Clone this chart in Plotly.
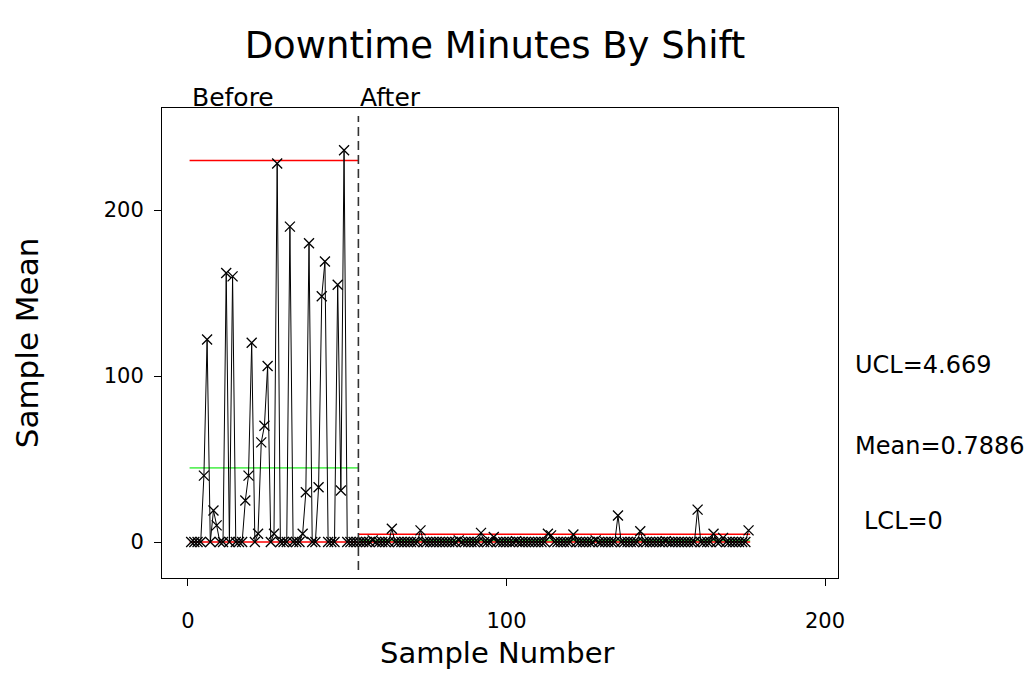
import plotly.graph_objects as go

# ---- data ----
before_values = [0, 0, 0, 0, 40, 122, 0, 19, 10, 0,
                 0, 162, 0, 160, 0, 0, 0, 25, 40, 120,
                 0, 5, 60, 70, 106, 0, 5, 228, 0, 0,
                 0, 190, 0, 0, 0, 5, 30, 180, 0, 0,
                 33, 148, 169, 0, 0, 0, 155, 31, 236, 0,
                 0, 0, 0]
after_values = [0, 0, 0, 0, 1, 0, 0, 0, 0, 0,
                8, 0, 0, 0, 0, 0, 0, 0, 0, 7,
                0, 0, 0, 0, 0, 0, 0, 0, 0, 0,
                0, 1, 0, 0, 0, 0, 0, 0, 5.5, 0,
                0, 0, 3, 0, 0, 0, 0, 0, 0, 0.5,
                0, 0, 0, 0, 0, 0, 0, 0, 0, 5,
                4, 0, 0, 0, 0, 0, 0, 4.5, 0, 0,
                0, 0, 0, 0, 1, 0, 0, 0, 0, 0,
                0, 16, 0, 0, 0, 0, 0, 0, 6.5, 0,
                0, 0, 0, 0, 0, 0, 0.5, 0, 0, 0,
                0, 0, 0, 0, 0, 0, 19.5, 0, 0, 0,
                0, 5, 0, 0, 2.5, 0, 0, 0, 0, 0,
                0, 0, 7]

phase_labels = ["Before", "After"]
ucl_values = [229.8, 4.669]
mean_values = [44.6, 0.7886]
lcl_values = [0, 0]
limit_labels = ["UCL=4.669", "Mean=0.7886", "LCL=0"]
x_title = "Sample Number"
y_title = "Sample Mean"

values = before_values + after_values
samples = list(range(1, len(values) + 1))
n_before = len(before_values)
n_total = len(values)
split = n_before + 0.5
phase_bounds = [(0.5, split), (split, n_total + 0.5)]

FONT = "DejaVu Sans, Arial, sans-serif"

# page offset (body margin) is 8px; plot area in page coords 162..838 x 108..578
OFF = 8
W, H = 1033 - 2 * OFF, 679 - 2 * OFF
PL, PR, PT, PB = 162, 838, 108, 578

fig = go.Figure()

# control limit lines
for (x0, x1), ucl, mu, lcl in zip(phase_bounds, ucl_values, mean_values, lcl_values):
    fig.add_trace(go.Scatter(x=[x0, x1], y=[ucl, ucl], mode="lines",
                             line=dict(color="#ff0000", width=1.4), hoverinfo="skip"))
    fig.add_trace(go.Scatter(x=[x0, x1], y=[mu, mu], mode="lines",
                             line=dict(color="#5ef05e", width=1.7), hoverinfo="skip"))
    fig.add_trace(go.Scatter(x=[x0, x1], y=[lcl, lcl], mode="lines",
                             line=dict(color="#ff0000", width=1.4), hoverinfo="skip"))

# data series
fig.add_trace(go.Scatter(
    x=samples, y=values, mode="lines+markers",
    line=dict(color="black", width=1),
    marker=dict(symbol="x-thin", size=10, line=dict(color="black", width=1.3)),
))

# phase separator
fig.add_shape(type="line", xref="x", yref="paper", x0=split, x1=split, y0=0.017, y1=0.983,
              line=dict(color="#333333", width=1.6, dash="9px,5px"))

annotations = [
    dict(text=phase_labels[0], x=0.6, y=1.0, yshift=-6),
    dict(text=phase_labels[1], x=split, y=1.0, yshift=-6),
]
for a in annotations:
    a.update(xref="x", yref="paper", xanchor="left", yanchor="bottom", showarrow=False,
             font=dict(size=25, color="black", family=FONT))

side_y = [365, 446, 521]
side_x = [853, 853, 862]
for txt, yp, xp in zip(limit_labels, side_y, side_x):
    annotations.append(dict(text=txt, xref="paper", yref="paper", showarrow=False,
                            x=(xp - PL) / (PR - PL), xanchor="left",
                            y=(PB - yp) / (PB - PT), yanchor="middle",
                            font=dict(size=24, color="black", family=FONT)))

# x-axis title placed precisely below the tick labels
annotations.append(dict(text=x_title, xref="paper", yref="paper", showarrow=False,
                        x=(497 - PL) / (PR - PL), xanchor="center",
                        y=(PB - 653) / (PB - PT), yanchor="middle",
                        font=dict(size=29, color="black", family=FONT)))

fig.update_layout(
    width=W, height=H,
    margin=dict(l=PL - OFF, r=W - (PR - OFF), t=PT - OFF, b=H - (PB - OFF), pad=0),
    paper_bgcolor="white", plot_bgcolor="white",
    showlegend=False,
    font=dict(family=FONT, color="black"),
    title=dict(text="Downtime Minutes By Shift", x=(495 - OFF) / W, xanchor="center",
               y=1 - (45 - OFF) / H, yanchor="middle",
               font=dict(size=37, family=FONT, color="black")),
    annotations=annotations,
    xaxis=dict(range=[-8.16, 204.08], tickvals=[0, 100, 200], ticks="outside", ticklen=7,
               tickcolor="black", showgrid=False, zeroline=False, showline=True, mirror=True,
               linecolor="black", linewidth=1, tickfont=dict(size=21, family=FONT),
               ticklabelstandoff=17, automargin=False),
    yaxis=dict(range=[-21.69, 261.45], tickvals=[0, 100, 200], ticks="outside", ticklen=7,
               tickcolor="black", showgrid=False, zeroline=False, showline=True, mirror=True,
               linecolor="black", linewidth=1, tickfont=dict(size=21, family=FONT),
               ticklabelstandoff=6, automargin=False,
               title=dict(text=y_title, font=dict(size=31, family=FONT), standoff=55)),
)

fig.write_html("out.html")
